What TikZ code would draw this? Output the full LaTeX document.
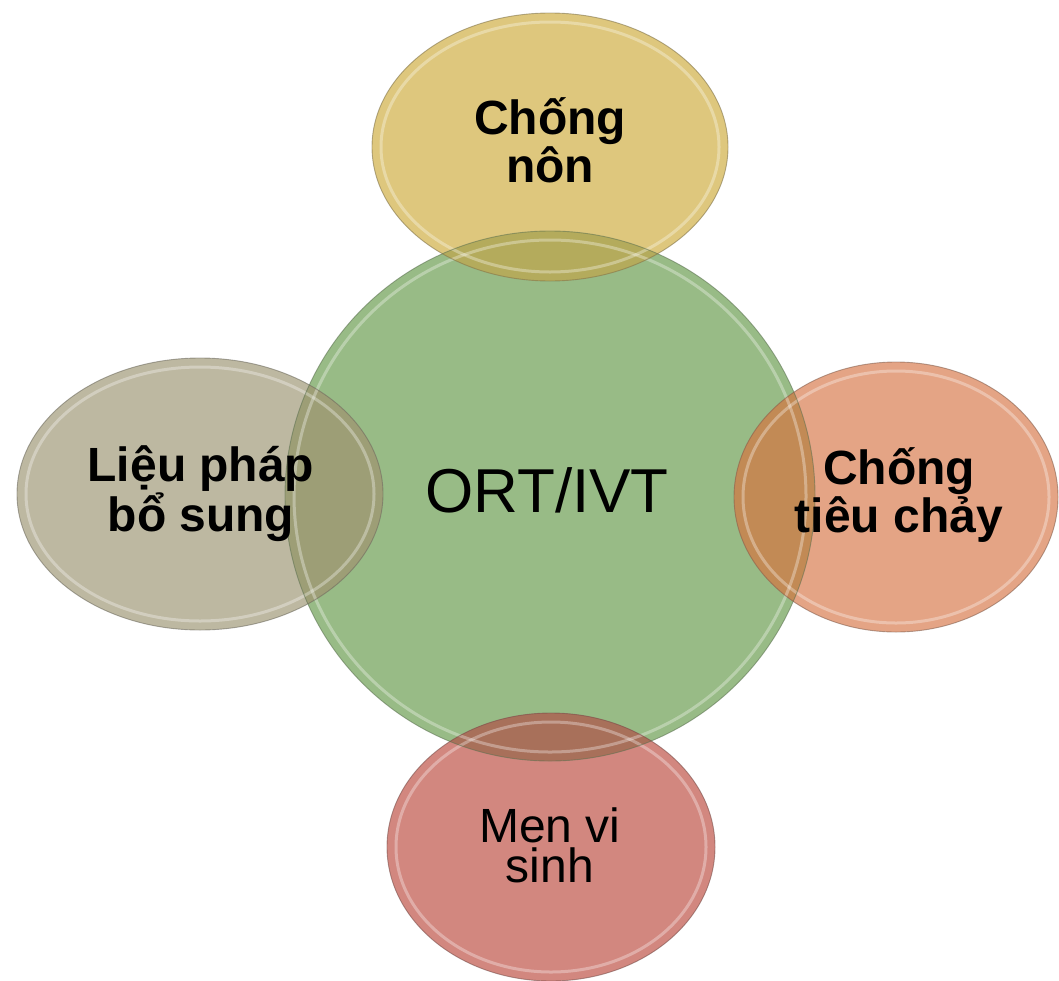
\documentclass[tikz,border=0pt]{standalone}
\usepackage{fontspec}
\setmainfont{Liberation Sans}
\usetikzlibrary{shapes.geometric}

\definecolor{cgreen}{HTML}{98BB86}
\definecolor{cyellow}{HTML}{DEC77D}
\definecolor{cgrey}{HTML}{BDB8A1}
\definecolor{corange}{HTML}{E4A485}
\definecolor{cred}{HTML}{D2877F}
\definecolor{ovtop}{HTML}{B4AB5C}
\definecolor{ovleft}{HTML}{9D9E76}
\definecolor{ovright}{HTML}{C28A55}
\definecolor{ovbottom}{HTML}{A8705A}

\tikzset{
  lab/.style={anchor=base, inner sep=0pt, text=black, align=center},
  boldlab/.style={lab, font=\bfseries\fontsize{48}{39}\selectfont},
  reglab/.style={lab, font=\fontsize{48}{40}\selectfont},
  biglab/.style={lab, font=\fontsize{62}{70}\selectfont},
  rim/.style={draw=white, line width=3pt, draw opacity=0.32},
  edgeline/.style={line width=0.9pt, draw opacity=0.55}
}

\begin{document}
\begin{tikzpicture}[x=1pt,y=-1pt]
\useasboundingbox (0,0) rectangle (1059,980);

% fills
\fill[cgreen] (550,496) circle [radius=265pt];
\fill[cyellow] (550,147) ellipse [x radius=178pt, y radius=134pt];
\fill[cgrey] (200,494) ellipse [x radius=183pt, y radius=136pt];
\fill[corange] (896,497) ellipse [x radius=162pt, y radius=135pt];
\fill[cred] (551,847) ellipse [x radius=164pt, y radius=134pt];

% overlaps
\begin{scope}
  \clip (550,496) circle [radius=265pt];
  \fill[ovtop] (550,147) ellipse [x radius=178pt, y radius=134pt];
  \fill[ovleft] (200,494) ellipse [x radius=183pt, y radius=136pt];
  \fill[ovright] (896,497) ellipse [x radius=162pt, y radius=135pt];
  \fill[ovbottom] (551,847) ellipse [x radius=164pt, y radius=134pt];
\end{scope}

% bevel rims
\draw[rim] (550,496) circle [radius=256pt];
\draw[rim] (550,147) ellipse [x radius=169pt, y radius=125pt];
\draw[rim] (200,494) ellipse [x radius=174pt, y radius=127pt];
\draw[rim] (896,497) ellipse [x radius=153pt, y radius=126pt];
\draw[rim] (551,847) ellipse [x radius=155pt, y radius=125pt];

% edges
\draw[edgeline, draw=cgreen!60!black] (550,496) circle [radius=265pt];
\draw[edgeline, draw=cyellow!55!black] (550,147) ellipse [x radius=178pt, y radius=134pt];
\draw[edgeline, draw=cgrey!55!black] (200,494) ellipse [x radius=183pt, y radius=136pt];
\draw[edgeline, draw=corange!55!black] (896,497) ellipse [x radius=162pt, y radius=135pt];
\draw[edgeline, draw=cred!55!black] (551,847) ellipse [x radius=164pt, y radius=134pt];

% labels (base anchor = baseline of last line)
\node[biglab] (center) at (547,512) {ORT/IVT};
\node[boldlab] (top) at (550,182) {Chống\\nôn};
\node[boldlab] (left) at (201,531) {Liệu pháp\\bổ sung};
\node[boldlab] (right) at (899,532) {Chống\\tiêu chảy};
\node[reglab] (bottom) at (550,882) {Men vi\\sinh};
\end{tikzpicture}
\end{document}
